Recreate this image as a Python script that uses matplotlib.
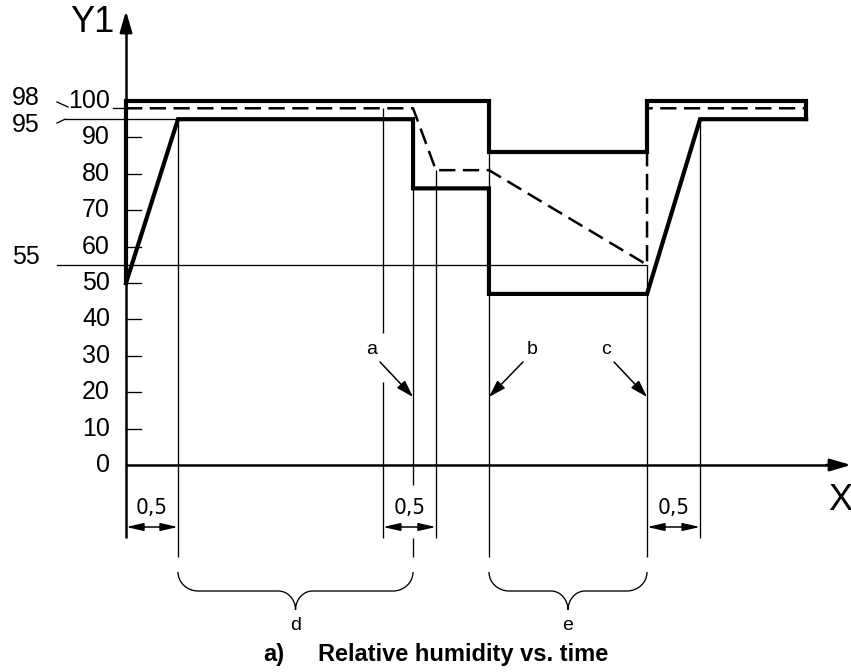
import matplotlib
matplotlib.use("Agg")
import matplotlib.pyplot as plt
from matplotlib.path import Path
from matplotlib.patches import PathPatch

# ---------------- data ----------------
upper_t = [0, 0, 3.49, 3.49, 5.01, 5.01, 6.54, 6.54]
upper_rh = [50, 100, 100, 86, 86, 100, 100, 95]

lower_t = [0, 0.5, 2.76, 2.76, 3.49, 3.49, 5.01, 5.52, 6.54]
lower_rh = [50, 95, 95, 76, 76, 47, 47, 95, 95]

nominal_t = [0, 2.76, 2.98, 3.49, 5.01, 5.01, 6.54]
nominal_rh = [98, 98, 81, 81, 55, 98, 98]

y_ticks = [0, 10, 20, 30, 40, 50, 60, 70, 80, 90]
y_tick_labels = ["0", "10", "20", "30", "40", "50", "60", "70", "80", "90"]
ref_levels = [98, 95, 55]
ref_labels = ["98", "95", "55"]

event_t = [0.5, 2.47, 2.76, 2.98, 3.49, 5.01, 5.52]
dim_spans = [(0, 0.5), (2.47, 2.98), (5.01, 5.52)]
dim_label = "0,5"
brace_spans = [(0.5, 2.76, "d"), (3.49, 5.01, "e")]
marker_t = [2.76, 3.49, 5.01]
marker_labels = ["a", "b", "c"]

# ---------------- layout helpers (pixel -> data) ----------------
X0, XS = 126.0, 104.0
Y0, YS = 465.0, 3.64


def dx(p):
    return (p - X0) / XS


def dy(p):
    return (Y0 - p) / YS


fig = plt.figure(figsize=(8.51, 6.72), dpi=100)
ax = fig.add_axes([0, 0, 1, 1])
ax.set_axis_off()
ax.set_xlim(dx(0), dx(851))
ax.set_ylim(dy(672), dy(0))

FONT = "Liberation Sans"
THIN = 0.95
THICK = 3.0
K = "black"
AX_ARROW = dict(arrowstyle="-|>,head_length=0.75,head_width=0.22",
                mutation_scale=17, color=K, lw=1.8, shrinkA=0, shrinkB=0)

# ---------------- axes ----------------
ax.plot([0, 0], [dy(538), dy(24)], color=K, lw=1.8, solid_capstyle="butt")
ax.annotate("", xy=(0, dy(11)), xytext=(0, dy(34)), arrowprops=AX_ARROW,
            annotation_clip=False)
ax.plot([0, dx(830)], [0, 0], color=K, lw=1.8, solid_capstyle="butt")
ax.annotate("", xy=(dx(851), 0), xytext=(dx(826), 0), arrowprops=AX_ARROW,
            annotation_clip=False)
ax.text(dx(92), dy(23), "Y1", fontsize=26, family=FONT, ha="center", va="center")
ax.text(dx(828), dy(500), "X", fontsize=26, family=FONT, ha="left", va="center")

# ticks
for v, lab in zip(y_ticks, y_tick_labels):
    if v > 0:
        ax.plot([0, dx(141)], [v, v], color=K, lw=THIN)
    ax.text(dx(110), v, lab, fontsize=18, family=FONT, ha="right", va="center")
ax.text(dx(110), 100, "100", fontsize=18, family=FONT, ha="right", va="center")

# reference levels and labels
ax.plot([dx(113), dx(124)], [ref_levels[0], ref_levels[0]], color=K, lw=THIN)
ax.plot([dx(57), dx(68)], [dy(102), dy(107)], color=K, lw=THIN)
ax.text(dx(26), dy(98), ref_labels[0], fontsize=18, family=FONT, ha="center", va="center")
ax.plot([dx(57), dx(65)], [dy(123), ref_levels[1]], color=K, lw=THIN)
ax.plot([dx(65), event_t[0]], [ref_levels[1], ref_levels[1]], color=K, lw=THIN)
ax.text(dx(26), dy(125), ref_labels[1], fontsize=18, family=FONT, ha="center", va="center")
ax.plot([dx(57), event_t[5]], [ref_levels[2], ref_levels[2]], color=K, lw=THIN)
ax.text(dx(26), dy(257), ref_labels[2], fontsize=18, family=FONT, ha="center", va="center")

# ---------------- guide (event) lines ----------------
bot_long = dy(557)
bot_short = dy(538)
ax.vlines(event_t[0], bot_long, 95, color=K, lw=THIN)
ax.vlines(event_t[1], dy(333), 98, color=K, lw=THIN)
ax.vlines(event_t[1], bot_short, dy(382), color=K, lw=THIN)
ax.vlines(event_t[2], dy(485), 76, color=K, lw=THIN)
ax.vlines(event_t[2], bot_long, bot_short, color=K, lw=THIN)
ax.vlines(event_t[3], bot_short, 81, color=K, lw=THIN)
ax.vlines(event_t[4], bot_long, 86, color=K, lw=THIN)
ax.vlines(event_t[5], bot_long, 55, color=K, lw=THIN)
ax.vlines(event_t[6], bot_short, 95, color=K, lw=THIN)

# ---------------- curves ----------------
ax.plot(nominal_t, nominal_rh, color=K, lw=1.8,
        linestyle=(0, (6.5, 3.0)), dash_capstyle="butt")
ax.plot(upper_t, upper_rh, color=K, lw=THICK,
        solid_joinstyle="miter", solid_capstyle="projecting")
ax.plot(lower_t, lower_rh, color=K, lw=THICK,
        solid_joinstyle="miter", solid_capstyle="projecting")

# ---------------- dimension arrows ----------------
for (a, b) in dim_spans:
    ax.annotate("", xy=(b, dy(527)), xytext=(a, dy(527)),
                arrowprops=dict(arrowstyle="<|-|>,head_length=0.8,head_width=0.18",
                                mutation_scale=13, color=K, lw=1.1,
                                shrinkA=0, shrinkB=0))
    ax.text((a + b) / 2, dy(508), dim_label, fontsize=16, family="DejaVu Sans",
            stretch="condensed", ha="center", va="center")

# ---------------- a / b / c markers ----------------
offsets = [(-33, -35), (34, -35), (-33, -35)]
lab_off = [(-41, -47), (43, -47), (-41, -47)]
for t, lab, off, lo in zip(marker_t, marker_labels, offsets, lab_off):
    xt = X0 + t * XS
    ax.annotate("", xy=(t, dy(397)), xytext=(dx(xt + off[0]), dy(397 + off[1])),
                arrowprops=dict(arrowstyle="-|>,head_length=0.8,head_width=0.25",
                                mutation_scale=13, color=K, lw=1.1,
                                shrinkA=0, shrinkB=0))
    ax.text(dx(xt + lo[0]), dy(397 + lo[1]), lab, fontsize=14, family=FONT,
            ha="center", va="center")

# ---------------- braces ----------------
def brace(t1, t2):
    x1 = X0 + t1 * XS
    x2 = X0 + t2 * XS
    xc = (x1 + x2) / 2
    ytop, ymid, ytip = 572, 591, 610
    r, rc, k = 20, 17, 0.55
    h1 = ymid - ytop
    h2 = ytip - ymid
    pts = [
        (x1, ytop),
        (x1, ytop + k * h1), (x1 + r - k * r, ymid), (x1 + r, ymid),
        (xc - rc, ymid),
        (xc - rc + k * rc, ymid), (xc, ymid + (1 - k) * h2), (xc, ytip),
        (xc, ymid + (1 - k) * h2), (xc + rc - k * rc, ymid), (xc + rc, ymid),
        (x2 - r, ymid),
        (x2 - r + k * r, ymid), (x2, ytop + k * h1), (x2, ytop),
    ]
    codes = [Path.MOVETO,
             Path.CURVE4, Path.CURVE4, Path.CURVE4,
             Path.LINETO,
             Path.CURVE4, Path.CURVE4, Path.CURVE4,
             Path.CURVE4, Path.CURVE4, Path.CURVE4,
             Path.LINETO,
             Path.CURVE4, Path.CURVE4, Path.CURVE4]
    verts = [(dx(px), dy(py)) for px, py in pts]
    ax.add_patch(PathPatch(Path(verts, codes), fill=False, edgecolor=K, lw=THIN))
    return (t1 + t2) / 2


for t1, t2, lab in brace_spans:
    tc = brace(t1, t2)
    ax.text(tc, dy(626), lab, fontsize=14, family=FONT, ha="center", va="center")

# ---------------- title ----------------
ax.text(dx(263), dy(661), "a)", fontsize=17, family=FONT, weight="bold",
        ha="left", va="baseline")
ax.text(dx(318), dy(661), "Relative humidity vs. time", fontsize=17, family=FONT,
        weight="bold", ha="left", va="baseline")

fig.savefig("out.png", dpi=100)
